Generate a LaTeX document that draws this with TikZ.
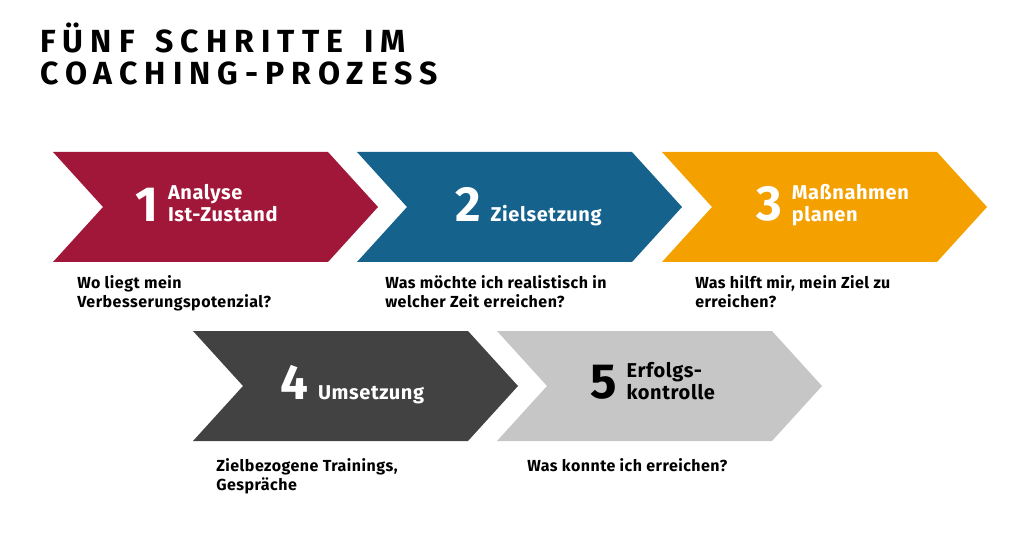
\documentclass[tikz,border=0pt]{standalone}
\usepackage{fontspec}
\setmainfont{Fira Sans}
\usetikzlibrary{positioning}
\definecolor{steprot}{HTML}{A1173A}
\definecolor{stepblau}{HTML}{15628C}
\definecolor{steporange}{HTML}{F4A100}
\definecolor{stepdunkel}{HTML}{424242}
\definecolor{stephell}{HTML}{C6C6C6}

\begin{document}
\begin{tikzpicture}[x=0.75pt, y=-0.75pt,
		num/.style={font=\fontsize{37}{37}\selectfont\bfseries, inner sep=0pt, anchor=south west, text=white},
		lbl/.style={font=\fontsize{15}{16.5}\addfontfeatures{LetterSpace=3}\bfseries, align=left, inner sep=0pt, text depth=0pt, anchor=south west, text=white},
		desc/.style={font=\fontsize{12}{14.2}\addfontfeatures{LetterSpace=3}\bfseries, align=left, inner sep=0pt, anchor=base west}]
		\useasboundingbox (0,0) rectangle (1024,538);
		% Titel
		\node (title) [anchor=base west, inner sep=0pt, align=left,
			font=\fontsize{24}{24}\addfontfeatures{LetterSpace=22}\bfseries] at (40,85)
			{FÜNF\hspace{0.2em} SCHRITTE\hspace{0.2em} IM\\COACHING-PROZESS};
		% Pfeile
		\foreach \x/\y/\col in {53/152/steprot, 357/152/stepblau, 662/152/steporange,
			193/331/stepdunkel, 497/331/stephell}
			\fill[\col] (\x,\y) -- ++(275,0) -- ++(50,55) -- ++(-50,55) -- ++(-275,0) -- ++(50,-55) -- cycle;
		% Schritte
		\node (n1) [num] at (135,222) {1};
		\node (l1) [lbl] at ([xshift=7pt]n1.south east) {Analyse\\Ist-Zustand};
		\node (n2) [num] at (455,222) {2};
		\node (l2) [lbl] at ([xshift=7pt]n2.south east) {Zielsetzung};
		\node (n3) [num] at (756,222) {3};
		\node (l3) [lbl] at ([xshift=7pt]n3.south east) {Maßnahmen\\planen};
		\node (n4) [num] at (280,400) {4};
		\node (l4) [lbl] at ([xshift=7pt]n4.south east) {Umsetzung};
		\node (n5) [num, text=black] at (590,400) {5};
		\node (l5) [lbl, text=black] at ([xshift=7pt]n5.south east) {Erfolgs-\\kontrolle};
		% Fragen
		\node (d1) [desc] at (77,307) {Wo liegt mein\\Verbesserungspotenzial?};
		\node (d2) [desc] at (385,307) {Was möchte ich realistisch in\\welcher Zeit erreichen?};
		\node (d3) [desc] at (695,307) {Was hilft mir, mein Ziel zu\\erreichen?};
		\node (d4) [desc] at (216,490) {Zielbezogene Trainings,\\Gespräche};
		\node (d5) [desc] at (527,471) {Was konnte ich erreichen?};
	\end{tikzpicture}
\end{document}
